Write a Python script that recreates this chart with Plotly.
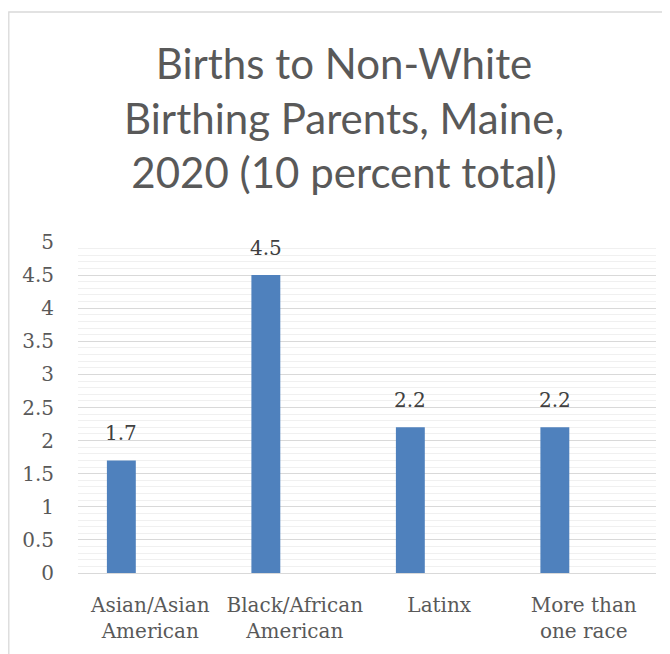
import plotly.graph_objects as go

categories = ["Asian/Asian American", "Black/African American", "Latinx", "More than one race"]
tick_labels = ["Asian/Asian<br>American", "Black/African<br>American", "Latinx", "More than<br>one race"]
values = [1.7, 4.5, 2.2, 2.2]
value_labels = ["1.7", "4.5", "2.2", "2.2"]
title_text = "Births to Non-White<br>Birthing Parents, Maine,<br>2020 (10 percent total)"

# the page body adds an 8px margin, so figure coords = page coords - 8
OFF = 8
W, H = 670 - OFF, 654 - OFF
L, T = 78 - OFF, 242 - OFF
R = W - (656 - OFF)
B = H - (573 - OFF)
plot_w = W - L - R
plot_h = H - T - B

fig = go.Figure()
fig.add_trace(go.Bar(
    x=categories, y=values,
    width=0.2, offset=-0.3,
    marker=dict(color="#4f81bd", line=dict(width=0)),
    hoverinfo="skip",
))

for i, (v, t) in enumerate(zip(values, value_labels)):
    fig.add_annotation(
        x=i - 0.2, y=v, xref="x", yref="y", text=t, showarrow=False,
        yanchor="bottom", yshift=13,
        font=dict(family="DejaVu Serif", size=20, color="#404040"),
    )

fig.add_shape(
    type="rect", xref="paper", yref="paper",
    x0=(0.8 - L) / plot_w, x1=1.3, y0=-0.6, y1=(H - B - (12 - OFF)) / plot_h,
    line=dict(color="#d9d9d9", width=1.3), fillcolor="rgba(0,0,0,0)", layer="below",
)

fig.update_layout(
    width=W, height=H,
    margin=dict(l=L, r=R, t=T, b=B),
    paper_bgcolor="white", plot_bgcolor="white",
    showlegend=False,
    title=dict(
        text=title_text, xref="paper", x=(344 - OFF - L) / plot_w, xanchor="center",
        yref="container", y=1 - 71 / H, yanchor="top",
        font=dict(family="Lato", size=42, color="#595959"),
    ),
    xaxis=dict(
        type="category", tickvals=categories, ticktext=tick_labels,
        showgrid=False, ticks="", ticklabelstandoff=18,
        tickfont=dict(family="DejaVu Serif", size=20, color="#595959"),
        range=[-0.5, 3.5], showline=False, zeroline=False,
    ),
    yaxis=dict(
        range=[0, 5], dtick=0.5, tickmode="linear", tick0=0,
        showgrid=True, gridcolor="#d9d9d9", gridwidth=1,
        minor=dict(dtick=0.1, tick0=0, showgrid=True, gridcolor="#f0f0f0", gridwidth=1),
        zeroline=True, zerolinecolor="#d9d9d9", zerolinewidth=1.3,
        ticks="", ticklabelstandoff=23, showline=False,
        tickfont=dict(family="DejaVu Serif", size=20, color="#595959"),
    ),
)

fig.write_html("out.html")
